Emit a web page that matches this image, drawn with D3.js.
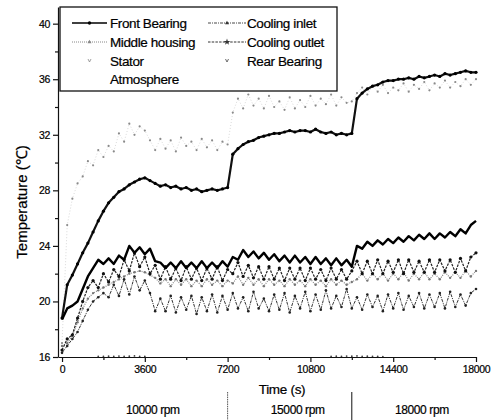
<!DOCTYPE html>
<html>
<head>
<meta charset="utf-8">
<script src="https://cdn.jsdelivr.net/npm/d3@7"></script>
<style>
    body { margin: 0; background: #fff; }
    svg { font-family: "Liberation Sans", Arial, sans-serif; }
    svg text { fill: #000; stroke: #000; stroke-width: 0.2px; }
    .axis text { font-size: 10.5px; letter-spacing: -0.3px; }
    .axis path, .axis line { stroke: #111; stroke-width: 1.2px; }
</style>
</head>
<body>
<svg id="chart"></svg>
<script>
// time grid (s) shared by all sensors
let times = [
    0, 225, 450, 675, 900, 1125, 1350, 1575, 1800,
    2025, 2250, 2475, 2700, 2925, 3150, 3375, 3600, 3825,
    4050, 4275, 4500, 4725, 4950, 5175, 5400, 5625, 5850,
    6075, 6300, 6525, 6750, 6975, 7200, 7425, 7650, 7875,
    8100, 8325, 8550, 8775, 9000, 9225, 9450, 9675, 9900,
    10125, 10350, 10575, 10800, 11025, 11250, 11475, 11700, 11925,
    12150, 12375, 12600, 12825, 13050, 13275, 13500, 13725, 13950,
    14175, 14400, 14625, 14850, 15075, 15300, 15525, 15750, 15975,
    16200, 16425, 16650, 16875, 17100, 17325, 17550, 17775, 18000
];

let frontBearing = [
    18.7, 19.5, 19.7, 20.0, 20.9, 21.8, 22.4, 23.0, 22.7,
    23.1, 22.7, 23.3, 23.0, 24.0, 23.5, 23.9, 23.4, 23.8,
    22.9, 22.8, 22.4, 22.8, 22.4, 22.9, 22.4, 22.8, 22.4,
    22.9, 22.4, 22.8, 22.4, 22.9, 22.5, 23.2, 23.0, 23.7,
    23.2, 23.6, 23.1, 23.5, 23.0, 23.4, 22.9, 23.3, 22.8,
    23.3, 22.8, 23.2, 22.7, 23.2, 22.7, 23.1, 22.6, 23.1,
    22.6, 23.0, 22.5, 24.0, 23.8, 24.3, 24.0, 24.4, 24.1,
    24.5, 24.2, 24.6, 24.3, 24.7, 24.4, 24.8, 24.5, 24.9,
    24.5, 24.9, 24.6, 25.0, 24.7, 25.2, 24.9, 25.5, 25.8
];
let coolingInlet = [
    16.3, 16.8, 17.3, 17.8, 18.6, 19.4, 20.0, 20.3, 20.6,
    20.3, 21.2, 20.4, 21.6, 20.5, 21.8, 20.8, 21.5, 20.6,
    19.3, 20.2, 19.3, 20.4, 19.2, 20.3, 19.4, 20.4, 19.1,
    20.3, 19.3, 20.5, 19.2, 20.4, 19.4, 20.6, 19.5, 20.3,
    19.3, 20.7, 19.5, 20.2, 19.3, 20.5, 19.4, 20.6, 19.2,
    20.4, 19.5, 20.7, 19.3, 20.5, 19.4, 20.8, 19.5, 20.4,
    19.6, 20.9, 19.5, 20.3, 19.4, 20.5, 19.6, 20.4, 19.3,
    20.5, 19.5, 20.6, 19.4, 20.4, 19.6, 20.6, 19.5, 20.5,
    19.6, 20.6, 19.5, 20.7, 19.6, 20.5, 19.7, 20.6, 20.9
];
let middleHousing = [
    16.8, 17.0, 17.5, 18.5, 19.5, 20.2, 20.6, 20.8, 21.0,
    21.2, 21.4, 21.6, 21.8, 22.0, 22.1, 22.2, 22.1, 21.9,
    21.7, 21.3, 21.6, 21.1, 21.6, 21.2, 21.6, 21.1, 21.5,
    21.1, 21.6, 21.2, 21.5, 21.1, 21.5, 21.3, 21.8, 21.2,
    21.7, 21.2, 21.6, 21.1, 21.6, 21.2, 21.5, 21.1, 21.6,
    21.2, 21.5, 21.1, 21.6, 21.2, 21.5, 21.1, 21.6, 21.2,
    21.5, 21.2, 21.4, 21.6, 22.0, 21.5, 22.0, 21.6, 22.0,
    21.5, 22.0, 21.6, 22.1, 21.5, 22.0, 21.6, 22.1, 21.6,
    22.0, 21.6, 22.1, 21.7, 22.1, 21.7, 22.2, 21.8, 22.2
];
let coolingOutlet = [
    16.5, 17.3, 17.6, 18.8, 20.0, 21.0, 21.5, 21.0, 22.0,
    21.4, 22.3, 21.8, 23.0, 22.2, 23.5, 22.5, 23.2, 22.0,
    22.6, 21.6, 22.5, 21.6, 22.4, 21.5, 22.5, 21.6, 22.4,
    21.5, 22.4, 21.6, 22.5, 21.5, 22.3, 22.0, 22.8, 21.8,
    22.6, 21.7, 22.5, 21.6, 22.5, 21.6, 22.4, 21.5, 22.4,
    21.6, 22.4, 21.5, 22.4, 21.6, 22.3, 21.5, 22.4, 21.6,
    22.3, 21.6, 22.2, 22.9, 22.0, 22.9, 22.0, 23.0, 22.0,
    22.9, 22.1, 23.0, 22.0, 23.0, 22.1, 22.9, 22.1, 23.0,
    22.1, 23.0, 22.2, 23.0, 22.1, 23.1, 22.2, 23.2, 23.5
];
let stator = [
    17.0, 25.5, 27.4, 28.5, 29.0, 30.1, 29.8, 30.9, 30.4,
    31.2, 30.8, 32.1, 31.5, 32.8, 32.0, 32.6, 32.3, 31.6,
    30.9, 31.7, 31.0, 31.6, 30.8, 31.8, 31.2, 31.5, 30.9,
    31.7, 31.1, 31.6, 30.9, 31.5, 31.3, 33.6, 34.6, 33.9,
    34.9, 34.1, 34.6, 33.9, 34.8, 34.0, 34.4, 33.8, 34.7,
    33.9, 34.5, 34.0, 34.8, 34.1, 34.6, 34.2, 34.9, 34.1,
    34.7, 34.3, 34.4, 35.0, 35.4, 34.9, 35.5, 35.1, 35.6,
    35.0, 35.4, 35.2, 35.7, 35.1, 35.6, 35.3, 35.8, 35.2,
    35.7, 35.4, 35.9, 35.4, 35.8, 35.5, 36.0, 35.6, 36.0
];
let rearBearing = [
    18.8, 21.2, 21.9, 22.7, 23.5, 24.2, 25.0, 25.8, 26.5,
    27.1, 27.5, 27.9, 28.1, 28.4, 28.6, 28.8, 28.9, 28.7,
    28.5, 28.3, 28.4, 28.2, 28.3, 28.1, 28.2, 28.0, 28.1,
    27.9, 28.0, 28.1, 28.0, 28.1, 28.2, 30.6, 31.0, 31.3,
    31.5, 31.6, 31.8, 31.9, 32.0, 32.1, 32.1, 32.2, 32.3,
    32.2, 32.3, 32.3, 32.2, 32.4, 32.2, 32.1, 32.2, 32.0,
    32.1, 32.0, 32.1, 34.6, 35.0, 35.3, 35.5, 35.6, 35.8,
    35.9, 35.9, 36.0, 36.0, 36.1, 36.0, 36.2, 36.1, 36.2,
    36.3, 36.2, 36.4, 36.3, 36.4, 36.5, 36.6, 36.5, 36.5
];
let atmosphere = [
    15.2, 15.3, 15.3, 15.4, 15.5, 15.6, 15.8, 16.04, 16.05,
    16.06, 16.05, 16.07, 16.05, 16.06, 16.08, 16.05, 16.04, 15.9,
    15.8, 15.8, 15.7, 15.7, 15.8, 15.7, 15.8, 15.7, 15.8,
    15.8, 15.9, 15.8, 15.9, 15.8, 15.9, 15.9, 15.8, 15.9,
    15.9, 15.8, 15.9, 15.9, 15.9, 15.8, 15.9, 15.9, 15.9,
    15.8, 15.8, 15.9, 15.9, 15.9, 15.9, 15.9, 16.04, 16.06,
    16.05, 16.07, 16.06, 16.08, 16.05, 16.06, 16.05, 16.04, 16.03,
    15.9, 15.9, 15.8, 15.8, 15.9, 15.8, 15.8, 15.9, 15.8,
    15.8, 15.9, 15.8, 15.8, 15.9, 15.8, 15.8, 15.9, 15.8
];

let xTicks = [0, 3600, 7200, 10800, 14400, 18000];
let xMinor = [1800, 5400, 9000, 12600, 16200];
let yTicks = [16, 20, 24, 28, 32, 36, 40];
let yMinor = [18, 22, 26, 30, 34, 38];
let phaseBounds = [0, 7200, 12600, 18000];
let phaseLabels = ['10000 rpm', '15000 rpm', '18000 rpm'];

let width = 499, height = 420;
let margin = {left: 58, right: 23, top: 7, bottom: 63};

let svg = d3.select('#chart')
    .attr('width', width)
    .attr('height', height);

let xScale = d3.scaleLinear()
    .domain([-175, 18000])
    .range([margin.left, width - margin.right]);
let yScale = d3.scaleLinear()
    .domain([16, 41.2])
    .range([height - margin.bottom, margin.top]);

let bottom = height - margin.bottom;

svg.append('defs').append('clipPath')
    .attr('id', 'clip')
    .append('rect')
    .attr('x', margin.left)
    .attr('y', margin.top)
    .attr('width', width - margin.left - margin.right + 2)
    .attr('height', bottom - margin.top + 0.5);

let plot = svg.append('g').attr('clip-path', 'url(#clip)');

function rows(values) {
    return values.map((v, i) => ({t: times[i], v: v}));
}

let line = d3.line()
    .x(d => xScale(d.t))
    .y(d => yScale(d.v));

// series drawn back to front
let series = [
    {name: 'Atmosphere', data: atmosphere, stroke: 'none', width: 0, dash: null, dot: 0.9, dotFill: '#444'},
    {name: 'Stator', data: stator, stroke: '#c8c8c8', width: 0.7, dash: '1,2', dot: 1.1, dotFill: '#8a8a8a'},
    {name: 'Cooling inlet', data: coolingInlet, stroke: '#333', width: 1, dash: '3,1,1,1', dot: 1.3, dotFill: '#222'},
    {name: 'Middle housing', data: middleHousing, stroke: '#888', width: 1.2, dash: '1,1.2', dot: 1.2, dotFill: '#777'},
    {name: 'Cooling outlet', data: coolingOutlet, stroke: '#222', width: 1.2, dash: '2.5,1.2', dot: 1.6, dotFill: '#111'},
    {name: 'Rear Bearing', data: rearBearing, stroke: '#111', width: 2.2, dash: null, dot: 1.6, dotFill: '#000'},
    {name: 'Front Bearing', data: frontBearing, stroke: '#000', width: 2.4, dash: null, dot: 0, dotFill: '#000'}
];

for (let s of series) {
    let data = rows(s.data);
    if (s.width > 0) {
        plot.append('path')
            .datum(data)
            .attr('d', line)
            .attr('fill', 'none')
            .attr('stroke', s.stroke)
            .attr('stroke-width', s.width)
            .attr('stroke-dasharray', s.dash)
            .attr('stroke-linejoin', 'round');
    }
    if (s.dot > 0) {
        plot.append('g')
            .selectAll('circle')
            .data(data)
            .join('circle')
            .attr('cx', d => xScale(d.t))
            .attr('cy', d => yScale(d.v))
            .attr('r', s.dot)
            .attr('fill', s.dotFill);
    }
}

// axes
svg.append('g')
    .attr('class', 'axis')
    .attr('transform', `translate(0,${bottom})`)
    .call(d3.axisBottom(xScale).tickValues(xTicks).tickFormat(d3.format('d'))
        .tickSize(5).tickSizeOuter(0).tickPadding(4));
svg.append('g')
    .attr('class', 'axis')
    .attr('transform', `translate(0,${bottom})`)
    .call(d3.axisBottom(xScale).tickValues(xMinor).tickSize(3).tickFormat(''))
    .select('.domain').remove();

svg.append('g')
    .attr('class', 'axis')
    .attr('transform', `translate(${margin.left},0)`)
    .call(d3.axisLeft(yScale).tickValues(yTicks).tickSize(5).tickSizeOuter(0).tickPadding(3));
svg.append('g')
    .attr('class', 'axis')
    .attr('transform', `translate(${margin.left},0)`)
    .call(d3.axisLeft(yScale).tickValues(yMinor).tickSize(3).tickFormat(''))
    .select('.domain').remove();

// axis titles
svg.append('text')
    .attr('transform', 'translate(27,202) rotate(-90)')
    .attr('text-anchor', 'middle')
    .style('font-size', '15px')
    .text('Temperature (\u2103)');

svg.append('text')
    .attr('x', 282)
    .attr('y', 394)
    .attr('text-anchor', 'middle')
    .style('font-size', '13.5px')
    .style('letter-spacing', '-0.3px')
    .text('Time (s)');

// speed phases under the axis
svg.append('g')
    .selectAll('line')
    .data(phaseBounds.slice(1, 3))
    .join('line')
    .attr('x1', d => xScale(d))
    .attr('x2', d => xScale(d))
    .attr('y1', 392)
    .attr('y2', 420)
    .attr('stroke', (d, i) => i === 0 ? '#555' : '#111')
    .attr('stroke-width', 1)
    .attr('stroke-dasharray', (d, i) => i === 0 ? '1.5,0.8' : null);

svg.append('g')
    .selectAll('text')
    .data(phaseLabels)
    .join('text')
    .attr('x', (d, i) => xScale((phaseBounds[i] + phaseBounds[i + 1]) / 2) + 8)
    .attr('y', 414)
    .attr('text-anchor', 'middle')
    .style('font-size', '12px')
    .style('letter-spacing', '-0.4px')
    .text(d => d);

// legend
let legend = svg.append('g');
legend.append('rect')
    .attr('x', 60)
    .attr('y', 7)
    .attr('width', 277)
    .attr('height', 84)
    .attr('fill', '#fff')
    .attr('stroke', '#111')
    .attr('stroke-width', 1.3);

let legendItems = [
    {name: 'Front Bearing', col: 0, row: 0, stroke: '#000', width: 1.5, dash: null, mark: 'dot'},
    {name: 'Cooling inlet', col: 1, row: 0, stroke: '#333', width: 0.9, dash: '3,1,1,1', mark: 'tri'},
    {name: 'Middle housing', col: 0, row: 1, stroke: '#888', width: 1, dash: '1,1', mark: 'tri'},
    {name: 'Cooling outlet', col: 1, row: 1, stroke: '#333', width: 1, dash: '2.5,1.2', mark: 'star'},
    {name: 'Stator', col: 0, row: 2, stroke: null, mark: 'v'},
    {name: 'Rear Bearing', col: 1, row: 2, stroke: null, mark: 'v'},
    {name: 'Atmosphere', col: 0, row: 3, stroke: null, mark: null}
];
let colX = [72, 208];
let rowY = [23, 42, 60.5, 79];
let sampleW = [35, 38];
let textX = [110, 247];

let item = legend.selectAll('g.item')
    .data(legendItems)
    .join('g')
    .attr('class', 'item');

item.filter(d => d.stroke)
    .append('line')
    .attr('x1', d => colX[d.col])
    .attr('x2', d => colX[d.col] + sampleW[d.col])
    .attr('y1', d => rowY[d.row])
    .attr('y2', d => rowY[d.row])
    .attr('stroke', d => d.stroke)
    .attr('stroke-width', d => d.width)
    .attr('stroke-dasharray', d => d.dash);

item.filter(d => d.mark)
    .append('path')
    .attr('transform', d => `translate(${colX[d.col] + sampleW[d.col] / 2},${rowY[d.row]})`)
    .attr('d', d => {
        if (d.mark === 'dot') return d3.symbol(d3.symbolCircle, 9)();
        if (d.mark === 'star') return d3.symbol(d3.symbolStar, 14)();
        if (d.mark === 'tri') return d3.symbol(d3.symbolTriangle, 7)();
        return 'M-1.5,-1.5L0,1.5L1.5,-1.5';
    })
    .attr('fill', d => d.mark === 'v' ? 'none' : d.stroke)
    .attr('stroke', d => d.mark === 'v' ? (d.col === 0 ? '#888' : '#444') : 'none')
    .attr('stroke-width', 0.8);

item.append('text')
    .attr('x', d => textX[d.col])
    .attr('y', d => rowY[d.row] + 5)
    .style('font-size', '13.5px')
    .style('letter-spacing', '-0.4px')
    .text(d => d.name);
</script>
</body>
</html>
